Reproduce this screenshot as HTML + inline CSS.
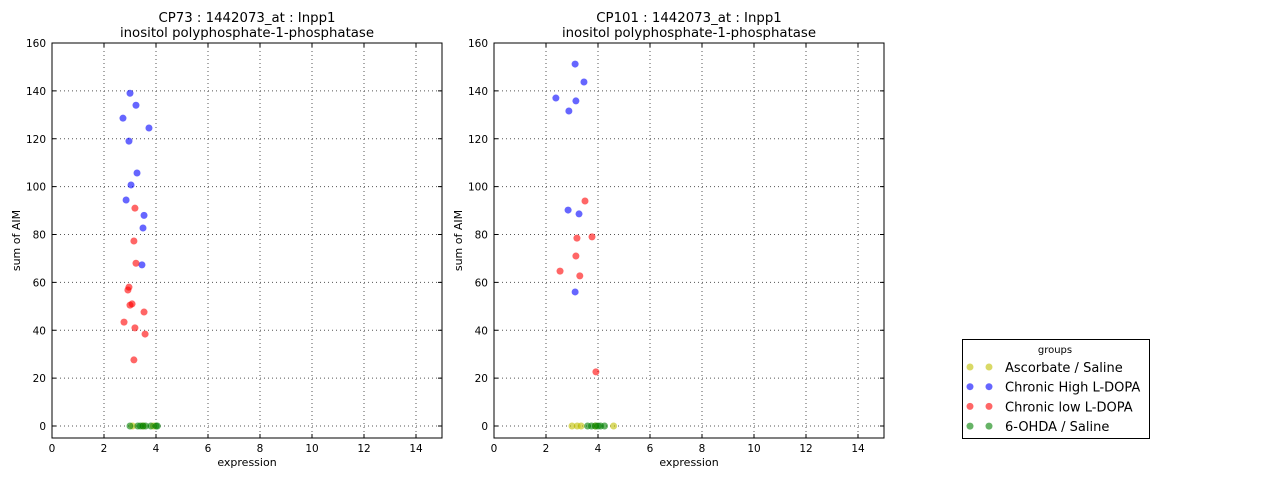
<!DOCTYPE html>
<html><head><meta charset="utf-8"><style>
body{margin:0;background:#fff;font-family:"DejaVu Sans","Liberation Sans",sans-serif;}
svg text{font-family:"DejaVu Sans","Liberation Sans",sans-serif;}
</style></head><body>
<svg id="c" width="1280" height="480" xmlns="http://www.w3.org/2000/svg"></svg>
<script>
const xTicks=[0,2,4,6,8,10,12,14];
const yTicks=[0,20,40,60,80,100,120,140,160];
const groupNames=["Ascorbate / Saline","Chronic High L-DOPA","Chronic low L-DOPA","6-OHDA / Saline"];
const groupColors=["#bfbf00","#0000ff","#ff0000","#008000"];
// panel 1
const p1BlueX=[3.0,3.23,2.73,3.73,2.96,3.27,3.04,2.85,3.54,3.5,3.46];
const p1BlueY=[139,134,128.6,124.5,119,105.7,100.7,94.4,88,82.7,67.3];
const p1RedX=[3.19,3.15,3.23,2.96,2.92,3.08,3.0,3.54,2.77,3.19,3.58,3.15];
const p1RedY=[91,77.3,68,58,56.8,51,50.5,47.6,43.4,41,38.4,27.6];
const p1YellowX=[3.1,3.5,3.9];
const p1YellowY=[0,0,0];
const p1GreenX=[3.0,3.3,3.4,3.5,3.6,3.8,4.0,4.05];
const p1GreenY=[0,0,0,0,0,0,0,0];
// panel 2
const p2BlueX=[3.12,3.46,2.38,3.15,2.88,2.85,3.27,3.12];
const p2BlueY=[151.2,143.7,137,135.8,131.6,90.2,88.6,56];
const p2RedX=[3.5,3.19,3.77,3.15,2.54,3.3,3.92];
const p2RedY=[94,78.5,79,71,64.7,62.7,22.6];
const p2YellowX=[3.0,3.2,3.35,3.9,4.6];
const p2YellowY=[0,0,0,0,0];
const p2GreenX=[3.6,3.75,3.9,4.0,4.1,4.25];
const p2GreenY=[0,0,0,0,0,0];

const NS="http://www.w3.org/2000/svg";
const svg=document.getElementById('c');
function mk(t,a,p){const e=document.createElementNS(NS,t);for(const k in a)e.setAttribute(k,a[k]);(p||svg).appendChild(e);return e;}
const plotTop=43,plotBot=438;
function yS(v){return 426-(v)*(383/160);}
function panel(left,title,series,idx){
  const g=mk('g',{});
  
  
  const w=390;
  const xS=v=>left+v*26;
  xTicks.forEach(t=>{
    if(t>0){const l=mk('line',{x1:xS(t),x2:xS(t),y1:plotTop,y2:plotBot,stroke:'#555','stroke-dasharray':'1,3','stroke-width':1},g);
    
    }
    mk('line',{x1:xS(t),x2:xS(t),y1:plotBot,y2:plotBot-4,stroke:'#000'},g);
    mk('line',{x1:xS(t),x2:xS(t),y1:plotTop,y2:plotTop+4,stroke:'#000'},g);
    const tx=mk('text',{x:xS(t),y:plotBot+14,'text-anchor':'middle','font-size':10.5},g);tx.textContent=t;
    
    
  });
  yTicks.forEach(t=>{
    if(t<160){const l=mk('line',{x1:left,x2:left+w,y1:yS(t),y2:yS(t),stroke:'#555','stroke-dasharray':'1,3','stroke-width':1},g);
    
    }
    mk('line',{x1:left,x2:left+4,y1:yS(t),y2:yS(t),stroke:'#000'},g);
    mk('line',{x1:left+w,x2:left+w-4,y1:yS(t),y2:yS(t),stroke:'#000'},g);
    const tx=mk('text',{x:left-6,y:yS(t)+4,'text-anchor':'end','font-size':10.5},g);tx.textContent=t;
    
    
  });
  series.forEach(s=>{
    s.x.forEach((xv,i)=>{
      const c=mk('circle',{cx:xS(xv),cy:yS(s.y[i]),r:3.5,fill:s.c,'fill-opacity':0.6},g);
      
      
    });
  });
  const fr=mk('rect',{x:left,y:plotTop,width:w,height:plotBot-plotTop,fill:'none',stroke:'#000'},g);
  
  
  const t1=mk('text',{x:left+w/2,y:22,'text-anchor':'middle','font-size':13.3},g);t1.textContent=title;
  
  
  const t2=mk('text',{x:left+w/2,y:37,'text-anchor':'middle','font-size':13.3},g);t2.textContent='inositol polyphosphate-1-phosphatase';
  
  
  const xl=mk('text',{x:left+w/2,y:466,'text-anchor':'middle','font-size':11},g);xl.textContent='expression';
  
  
  const yl=mk('text',{x:0,y:0,'text-anchor':'middle','font-size':11,transform:`translate(${left-32},${(plotTop+plotBot)/2}) rotate(-90)`},g);yl.textContent='sum of AIM';
  
  
}
panel(52,'CP73 : 1442073_at : Inpp1',[
 {x:p1YellowX,y:p1YellowY,c:groupColors[0],n:'ascorbate'},
 {x:p1GreenX,y:p1GreenY,c:groupColors[3],n:'ohda'},
 {x:p1BlueX,y:p1BlueY,c:groupColors[1],n:'high-ldopa'},
 {x:p1RedX,y:p1RedY,c:groupColors[2],n:'low-ldopa'}],1);
panel(494,'CP101 : 1442073_at : Inpp1',[
 {x:p2YellowX,y:p2YellowY,c:groupColors[0],n:'ascorbate'},
 {x:p2GreenX,y:p2GreenY,c:groupColors[3],n:'ohda'},
 {x:p2BlueX,y:p2BlueY,c:groupColors[1],n:'high-ldopa'},
 {x:p2RedX,y:p2RedY,c:groupColors[2],n:'low-ldopa'}],2);
const lg=mk('g',{});


mk('rect',{x:962.5,y:339.5,width:187,height:99,fill:'#fff',stroke:'#000'},lg);
const lt=mk('text',{x:1055,y:353,'text-anchor':'middle','font-size':10},lg);lt.textContent='groups';
groupNames.forEach((n,i)=>{
  const y=367+i*19.7;
  const e=mk('g',{},lg);
  
  
  mk('circle',{cx:970,cy:y,r:3.5,fill:groupColors[i],'fill-opacity':0.6},e);
  mk('circle',{cx:989,cy:y,r:3.5,fill:groupColors[i],'fill-opacity':0.6},e);
  const t=mk('text',{x:1005,y:y+5,'font-size':13},e);t.textContent=n;
});
</script>
</body></html>
